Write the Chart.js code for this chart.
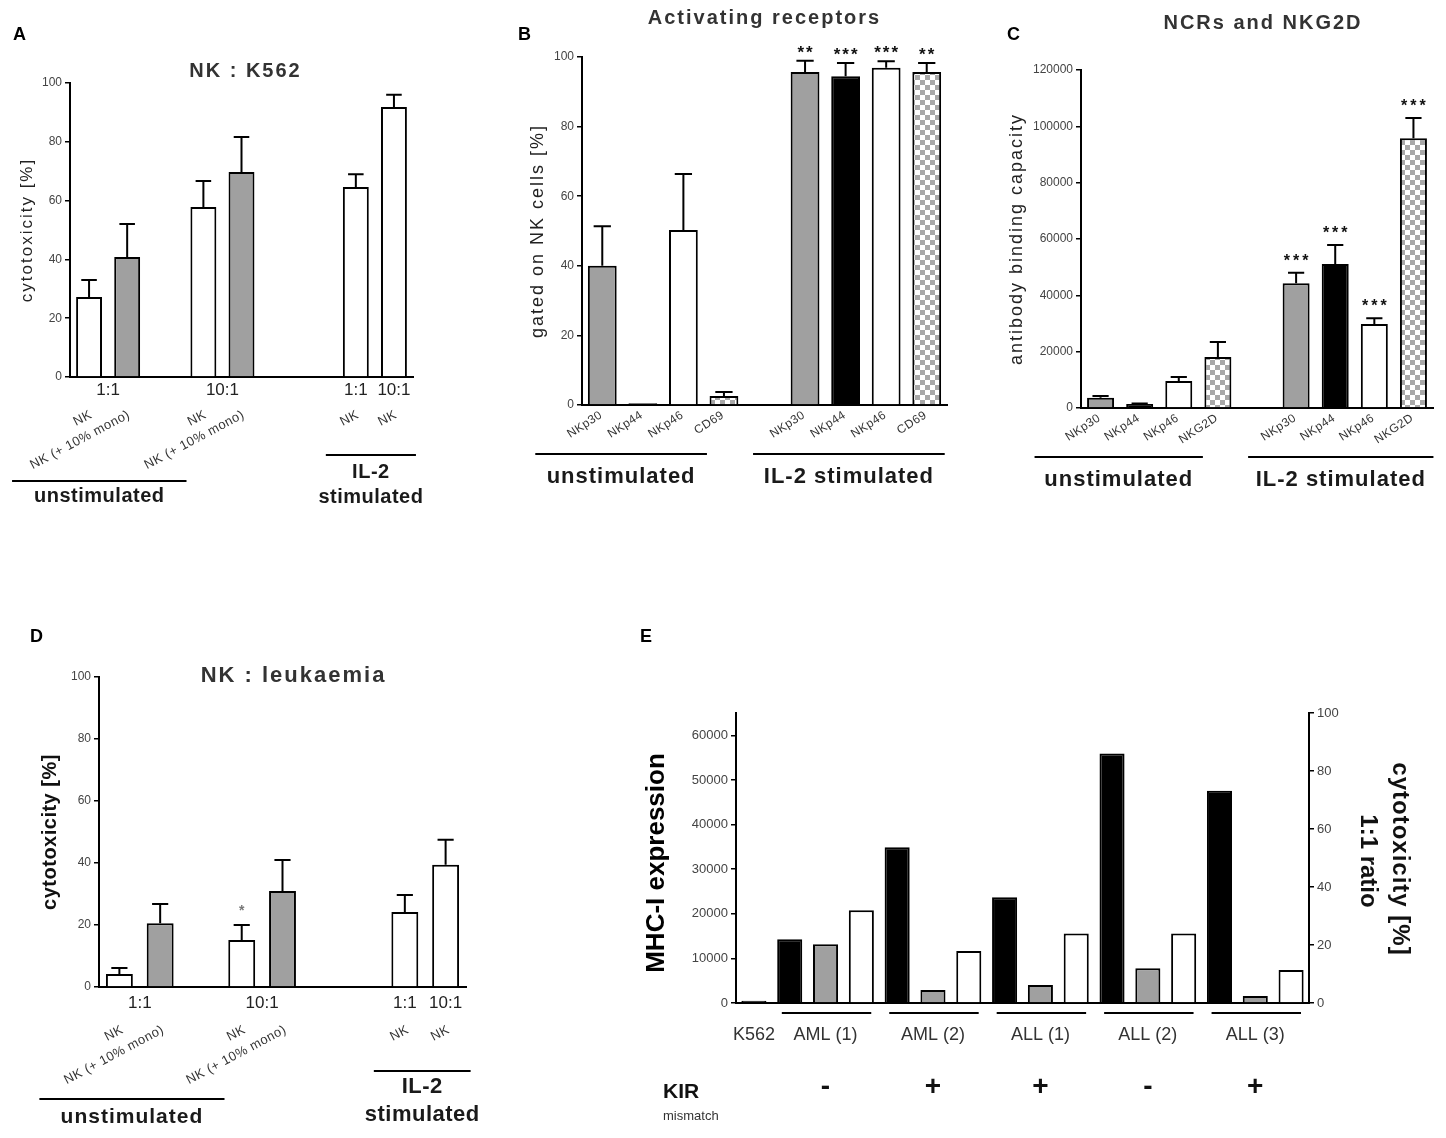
<!DOCTYPE html>
<html>
<head>
<meta charset="utf-8">
<title>NK cell cytotoxicity and receptor expression</title>
<script src="https://cdn.jsdelivr.net/npm/chart.js@4.4.1/dist/chart.umd.min.js"></script>
<style>
  html, body { margin: 0; padding: 0; background: #fff; }
  body { width: 1446px; height: 1138px; position: relative; overflow: hidden; }
  canvas { position: absolute; }
</style>
</head>
<body>
<canvas id="chart-a" width="490" height="545" style="left:0px;top:0px"></canvas>
<canvas id="chart-b" width="490" height="545" style="left:490px;top:0px"></canvas>
<canvas id="chart-c" width="466" height="545" style="left:980px;top:0px"></canvas>
<canvas id="chart-d" width="500" height="548" style="left:0px;top:590px"></canvas>
<canvas id="chart-e" width="826" height="548" style="left:620px;top:590px"></canvas>
<script>
// ---- data ----

// A: NK : K562, cytotoxicity [%]
const aLabels = ['NK', 'NK (+ 10% mono)', '', 'NK', 'NK (+ 10% mono)', '', '', 'NK', 'NK'];
const aValues = [27.2, 40.8, null, 57.8, 69.7, null, null, 64.6, 91.8];
const aErrors = [5.8, 11.2, null, 8.9, 11.9, null, null, 4.4, 4.2];
const aRatios = [['1:1', 0, 1], ['10:1', 3, 4], ['1:1', 7, 7], ['10:1', 8, 8]];

// B: activating receptors, gated on NK cells [%]
const bLabels = ['NKp30', 'NKp44', 'NKp46', 'CD69', '', 'NKp30', 'NKp44', 'NKp46', 'CD69'];
const bValues = [40, 0.5, 50.3, 2.6, null, 95.7, 94.5, 96.9, 95.7];
const bErrors = [11.4, null, 16.1, 1.1, null, 3.2, 3.8, 1.9, 2.6];
const bStars = ['', '', '', '', '', '**', '***', '***', '**'];

// C: NCRs and NKG2D, antibody binding capacity
const cLabels = ['NKp30', 'NKp44', 'NKp46', 'NKG2D', '', 'NKp30', 'NKp44', 'NKp46', 'NKG2D'];
const cValues = [3600, 1400, 9600, 18100, null, 44300, 51100, 29800, 95800];
const cErrors = [700, 200, 1400, 5300, null, 3700, 6800, 2100, 7200];
const cStars = ['', '', '', '', '', '***', '***', '***', '***'];

// D: NK : leukaemia, cytotoxicity [%]
const dLabels = ['NK', 'NK (+ 10% mono)', '', 'NK', 'NK (+ 10% mono)', '', '', 'NK', 'NK'];
const dValues = [4.2, 20.6, null, 15.2, 31.0, null, null, 24.2, 39.4];
const dErrors = [1.9, 6.2, null, 4.8, 10.0, null, null, 5.5, 8.1];
const dStars = ['', '', '', '*', '', '', '', '', ''];
const dRatios = [['1:1', 0, 1], ['10:1', 3, 4], ['1:1', 7, 7], ['10:1', 8, 8]];

// E: MHC-I expression vs cytotoxicity at 1:1
const eTargets = ['K562', 'AML (1)', 'AML (2)', 'ALL (1)', 'ALL (2)', 'ALL (3)'];
const eMhc = [500, 14300, 34900, 23700, 55900, 47600];
const eCytoUnstim = [null, 20.3, 4.5, 6.2, 12.0, 2.4];
const eCytoIl2 = [null, 32.0, 17.9, 24.0, 24.0, 11.4];
const eKir = ['', '-', '+', '+', '-', '+'];

// ---- styles ----
const FONT = "'Liberation Sans', Arial, sans-serif";
Chart.defaults.font.family = FONT;
Chart.defaults.color = '#444';

const GRAY = '#a0a0a0';

function checker() {
  const c = document.createElement('canvas');
  c.width = 10; c.height = 10;
  const g = c.getContext('2d');
  g.fillStyle = '#fff';
  g.fillRect(0, 0, 10, 10);
  g.fillStyle = '#a8a8a8';
  g.fillRect(0, 0, 5, 5);
  g.fillRect(5, 5, 5, 5);
  return g.createPattern(c, 'repeat');
}
const CHECK = checker();

function monoFill(label) {
  return label.indexOf('mono') >= 0 ? GRAY : '#fff';
}
function receptorFill(label) {
  if (label === 'NKp30') return GRAY;
  if (label === 'NKp44') return '#000';
  if (label === 'NKp46') return '#fff';
  return CHECK;
}

// ---- drawing helpers ----
function txt(ctx, s, x, y, font, o) {
  o = o || {};
  ctx.save();
  ctx.font = font;
  ctx.fillStyle = o.color || '#222';
  ctx.textAlign = o.align || 'center';
  ctx.textBaseline = o.baseline || 'middle';
  if ('letterSpacing' in ctx) ctx.letterSpacing = (o.spacing || 0) + 'px';
  ctx.translate(x, y);
  if (o.angle) ctx.rotate(o.angle * Math.PI / 180);
  ctx.fillText(s, 0, 0);
  ctx.restore();
}

function hline(ctx, x1, x2, y) {
  ctx.save();
  ctx.strokeStyle = '#000';
  ctx.lineWidth = 2;
  ctx.beginPath();
  ctx.moveTo(x1, y);
  ctx.lineTo(x2, y);
  ctx.stroke();
  ctx.restore();
}

const errorBars = {
  id: 'errorBars',
  afterDatasetsDraw(chart) {
    const ctx = chart.ctx;
    chart.data.datasets.forEach((ds, di) => {
      if (!ds.errors) return;
      const meta = chart.getDatasetMeta(di);
      const y = chart.scales[meta.yAxisID];
      meta.data.forEach((bar, i) => {
        const v = ds.data[i], e = ds.errors[i];
        if (v == null || e == null) return;
        const top = y.getPixelForValue(v + e);
        const half = bar.width * 0.3;
        ctx.save();
        ctx.strokeStyle = '#000';
        ctx.lineWidth = 2;
        ctx.beginPath();
        ctx.moveTo(bar.x, bar.y);
        ctx.lineTo(bar.x, top);
        ctx.moveTo(bar.x - half, top);
        ctx.lineTo(bar.x + half, top);
        ctx.stroke();
        ctx.restore();
      });
    });
  }
};

function drawStars(chart, stars, values, errors, size, gap, spacing, color) {
  const x = chart.scales.x, y = chart.scales.y;
  stars.forEach((s, i) => {
    if (!s) return;
    const top = y.getPixelForValue(values[i] + (errors[i] || 0));
    txt(chart.ctx, s, x.getPixelForValue(i) + spacing / 2, top - gap + 0.57 * size,
      `bold ${size}px ${FONT}`, { baseline: 'alphabetic', spacing: spacing, color: color || '#111' });
  });
}

function rotatedLabels(chart, labels, dx, dy, angle, size) {
  const x = chart.scales.x, ca = chart.chartArea;
  labels.forEach((t, i) => {
    if (!t) return;
    txt(chart.ctx, t, x.getPixelForValue(i) + dx, ca.bottom + dy, `${size}px ${FONT}`,
      { align: 'right', angle: angle, color: '#333', spacing: 0.5 });
  });
}

function bracket(ctx, lines, x1, x2, yLine, yText, step, font, spacing) {
  hline(ctx, x1, x2, yLine);
  lines.forEach((t, k) => txt(ctx, t, (x1 + x2) / 2, yText + k * step, font, { spacing: spacing, color: '#1a1a1a' }));
}

// ---- axes ----
function yAxis(max, step, width, size, position) {
  return {
    position: position || 'left',
    min: 0,
    max: max,
    afterFit: s => { s.width = width; },
    // round steps only: an odd max like 65000 just lengthens the axis line
    afterBuildTicks: s => {
      const ticks = [];
      for (let v = 0; v <= max; v += step) ticks.push({ value: v });
      s.ticks = ticks;
    },
    border: { display: true, color: '#000', width: 2 },
    grid: { display: true, drawOnChartArea: false, drawTicks: true, tickLength: 5, color: '#000', lineWidth: 1.5 },
    ticks: { padding: 3, color: '#444', font: { size: size }, callback: v => String(v) }
  };
}
function xAxis() {
  return {
    type: 'category',
    afterFit: s => { s.height = 20; },
    border: { display: true, color: '#000', width: 2 },
    grid: { display: false },
    ticks: { display: false }
  };
}
function baseOptions(padding, scales) {
  return {
    responsive: false,
    animation: false,
    events: [],
    layout: { padding: padding },
    plugins: { legend: { display: false }, tooltip: { enabled: false } },
    scales: scales
  };
}

// ---- panel A ----
new Chart(document.getElementById('chart-a'), {
  type: 'bar',
  data: {
    labels: aLabels,
    datasets: [{
      label: 'cytotoxicity against K562',
      data: aValues,
      errors: aErrors,
      backgroundColor: c => monoFill(aLabels[c.dataIndex]),
      borderColor: '#000',
      borderWidth: 2,
      barPercentage: 0.68,
      categoryPercentage: 1
    }]
  },
  options: baseOptions({ left: 10, top: 83, right: 77, bottom: 148 },
    { x: xAxis(), y: yAxis(100, 20, 60, 12) }),
  plugins: [errorBars, {
    id: 'panelA',
    afterDraw(chart) {
      const { ctx, chartArea: ca } = chart;
      const px = i => chart.scales.x.getPixelForValue(i);
      txt(ctx, 'A', 13, 40, `bold 18px ${FONT}`, { align: 'left', baseline: 'alphabetic', color: '#000' });
      txt(ctx, 'NK : K562', (ca.left + ca.right) / 2 + 4, ca.top - 12, `bold 20px ${FONT}`, { spacing: 2, color: '#333' });
      txt(ctx, 'cytotoxicity [%]', 27, (ca.top + ca.bottom) / 2, `17px ${FONT}`, { angle: -90, spacing: 2 });
      aRatios.forEach(([t, a, b]) => txt(ctx, t, (px(a) + px(b)) / 2, ca.bottom + 13, `17px ${FONT}`));
      rotatedLabels(chart, aLabels, 2, 37, -28, 13);
      bracket(ctx, ['unstimulated'], px(0) - 77, px(4) - 55, ca.bottom + 104, ca.bottom + 119, 0, `bold 20px ${FONT}`, 0.5);
      bracket(ctx, ['IL-2', 'stimulated'], px(7) - 30, px(8) + 22, ca.bottom + 78, ca.bottom + 95, 25, `bold 20px ${FONT}`, 0.5);
    }
  }]
});

// ---- panel B ----
new Chart(document.getElementById('chart-b'), {
  type: 'bar',
  data: {
    labels: bLabels,
    datasets: [{
      label: 'gated on NK cells',
      data: bValues,
      errors: bErrors,
      backgroundColor: c => receptorFill(bLabels[c.dataIndex]),
      borderColor: '#000',
      borderWidth: 2,
      barPercentage: 0.71,
      categoryPercentage: 1
    }]
  },
  options: baseOptions({ left: 12, top: 57, right: 33, bottom: 120 },
    { x: xAxis(), y: yAxis(100, 20, 80, 12) }),
  plugins: [errorBars, {
    id: 'panelB',
    afterDraw(chart) {
      const { ctx, chartArea: ca } = chart;
      const px = i => chart.scales.x.getPixelForValue(i);
      txt(ctx, 'B', 28, 40, `bold 18px ${FONT}`, { align: 'left', baseline: 'alphabetic', color: '#000' });
      txt(ctx, 'Activating receptors', (ca.left + ca.right) / 2, ca.top - 39, `bold 20px ${FONT}`, { spacing: 2, color: '#333' });
      txt(ctx, 'gated on NK cells [%]', 48, (ca.top + ca.bottom) / 2, `18px ${FONT}`, { angle: -90, spacing: 2 });
      drawStars(chart, bStars, bValues, bErrors, 17, 13, 2);
      rotatedLabels(chart, bLabels, -1, 9, -33, 12);
      bracket(ctx, ['unstimulated'], px(0) - 67, px(3) - 17, ca.bottom + 49, ca.bottom + 72, 0, `bold 22px ${FONT}`, 1);
      bracket(ctx, ['IL-2 stimulated'], px(5) - 52, px(8) + 18, ca.bottom + 49, ca.bottom + 72, 0, `bold 22px ${FONT}`, 1);
    }
  }]
});

// ---- panel C ----
new Chart(document.getElementById('chart-c'), {
  type: 'bar',
  data: {
    labels: cLabels,
    datasets: [{
      label: 'antibody binding capacity',
      data: cValues,
      errors: cErrors,
      backgroundColor: c => receptorFill(cLabels[c.dataIndex]),
      borderColor: '#000',
      borderWidth: 2,
      barPercentage: 0.69,
      categoryPercentage: 1
    }]
  },
  options: baseOptions({ left: 11, top: 70, right: 13, bottom: 117 },
    { x: xAxis(), y: yAxis(120000, 20000, 90, 12) }),
  plugins: [errorBars, {
    id: 'panelC',
    afterDraw(chart) {
      const { ctx, chartArea: ca } = chart;
      const px = i => chart.scales.x.getPixelForValue(i);
      txt(ctx, 'C', 27, 40, `bold 18px ${FONT}`, { align: 'left', baseline: 'alphabetic', color: '#000' });
      txt(ctx, 'NCRs and NKG2D', (ca.left + ca.right) / 2 + 6, ca.top - 47, `bold 20px ${FONT}`, { spacing: 2, color: '#333' });
      txt(ctx, 'antibody binding capacity', 37, (ca.top + ca.bottom) / 2, `18px ${FONT}`, { angle: -90, spacing: 2 });
      drawStars(chart, cStars, cValues, cErrors, 16, 16, 3);
      rotatedLabels(chart, cLabels, -1, 9, -33, 12);
      bracket(ctx, ['unstimulated'], px(0) - 66, px(3) - 15, ca.bottom + 49, ca.bottom + 72, 0, `bold 22px ${FONT}`, 1);
      bracket(ctx, ['IL-2 stimulated'], px(5) - 48, px(8) + 20, ca.bottom + 49, ca.bottom + 72, 0, `bold 22px ${FONT}`, 1);
    }
  }]
});

// ---- panel D ----
new Chart(document.getElementById('chart-d'), {
  type: 'bar',
  data: {
    labels: dLabels,
    datasets: [{
      label: 'cytotoxicity against leukaemia',
      data: dValues,
      errors: dErrors,
      backgroundColor: c => monoFill(dLabels[c.dataIndex]),
      borderColor: '#000',
      borderWidth: 2,
      barPercentage: 0.66,
      categoryPercentage: 1
    }]
  },
  options: baseOptions({ left: 9, top: 87, right: 34, bottom: 131 },
    { x: xAxis(), y: yAxis(100, 20, 90, 12) }),
  plugins: [errorBars, {
    id: 'panelD',
    afterDraw(chart) {
      const { ctx, chartArea: ca } = chart;
      const px = i => chart.scales.x.getPixelForValue(i);
      txt(ctx, 'D', 30, 52, `bold 18px ${FONT}`, { align: 'left', baseline: 'alphabetic', color: '#000' });
      txt(ctx, 'NK : leukaemia', (ca.left + ca.right) / 2 + 11, ca.top - 1, `bold 22px ${FONT}`, { spacing: 2, color: '#333' });
      txt(ctx, 'cytotoxicity [%]', 50, (ca.top + ca.bottom) / 2, `bold 20px ${FONT}`, { angle: -90, spacing: 0.5, color: '#111' });
      drawStars(chart, dStars, dValues, dErrors, 14, 18, 0, '#777');
      dRatios.forEach(([t, a, b]) => txt(ctx, t, (px(a) + px(b)) / 2, ca.bottom + 16, `17px ${FONT}`));
      rotatedLabels(chart, dLabels, 3, 42, -28, 13);
      bracket(ctx, ['unstimulated'], px(0) - 80, px(4) - 58, ca.bottom + 112, ca.bottom + 130, 0, `bold 21px ${FONT}`, 1);
      bracket(ctx, ['IL-2', 'stimulated'], px(7) - 31, px(8) + 25, ca.bottom + 84, ca.bottom + 100, 28, `bold 22px ${FONT}`, 0.5);
    }
  }]
});

// ---- panel E ----
const eSlotLabels = [], eBlack = [], eGray = [], eWhite = [], eStart = [];
eTargets.forEach((t, k) => {
  eStart.push(eSlotLabels.length);
  eSlotLabels.push(t); eBlack.push(eMhc[k]); eGray.push(null); eWhite.push(null);
  if (eCytoUnstim[k] != null) {
    eSlotLabels.push(t); eBlack.push(null); eGray.push(eCytoUnstim[k]); eWhite.push(null);
    eSlotLabels.push(t); eBlack.push(null); eGray.push(null); eWhite.push(eCytoIl2[k]);
  }
});

const eBar = { borderColor: '#000', borderWidth: 2, barPercentage: 0.7, categoryPercentage: 1, grouped: false };

new Chart(document.getElementById('chart-e'), {
  type: 'bar',
  data: {
    labels: eSlotLabels,
    datasets: [
      Object.assign({ label: 'MHC-I expression', data: eBlack, yAxisID: 'y', backgroundColor: '#000' }, eBar),
      Object.assign({ label: 'cytotoxicity, unstimulated NK', data: eGray, yAxisID: 'y2', backgroundColor: GRAY }, eBar),
      Object.assign({ label: 'cytotoxicity, IL-2 stimulated NK', data: eWhite, yAxisID: 'y2', backgroundColor: '#fff' }, eBar)
    ]
  },
  options: baseOptions({ left: 10, top: 123, right: 97, bottom: 115 }, {
    x: xAxis(),
    y: yAxis(65000, 10000, 106, 13, 'left'),
    y2: yAxis(100, 20, 40, 13, 'right')
  }),
  plugins: [{
    id: 'panelE',
    afterDraw(chart) {
      const { ctx, chartArea: ca } = chart;
      const px = i => chart.scales.x.getPixelForValue(i);
      const slot = px(1) - px(0);
      const mid = (ca.top + ca.bottom) / 2;
      txt(ctx, 'E', 20, 52, `bold 18px ${FONT}`, { align: 'left', baseline: 'alphabetic', color: '#000' });
      txt(ctx, 'MHC-I expression', 37, mid + 5, `bold 26px ${FONT}`, { angle: -90, color: '#000' });
      txt(ctx, 'cytotoxicity [%]', 780, mid + 1, `bold 24px ${FONT}`, { angle: 90, spacing: 1, color: '#111' });
      txt(ctx, '1:1 ratio', 748, mid + 3, `bold 24px ${FONT}`, { angle: 90, color: '#111' });
      eTargets.forEach((t, k) => {
        const s = eStart[k];
        const e = (k + 1 < eStart.length ? eStart[k + 1] : eSlotLabels.length) - 1;
        const c = (px(s) + px(e)) / 2;
        txt(ctx, t, c, ca.bottom + 32, `18px ${FONT}`, { color: '#333' });
        if (e > s) hline(ctx, px(s) - slot / 2 + 10, px(e) + slot / 2 - 8, ca.bottom + 10);
        if (eKir[k]) txt(ctx, eKir[k], c, ca.bottom + 84, `bold 28px ${FONT}`, { color: '#111' });
      });
      txt(ctx, 'KIR', ca.left - 73, ca.bottom + 95, `bold 21px ${FONT}`, { align: 'left', baseline: 'alphabetic', color: '#111' });
      txt(ctx, 'mismatch', ca.left - 73, ca.bottom + 117, `13px ${FONT}`, { align: 'left', baseline: 'alphabetic', color: '#333' });
    }
  }]
});
</script>
</body>
</html>
